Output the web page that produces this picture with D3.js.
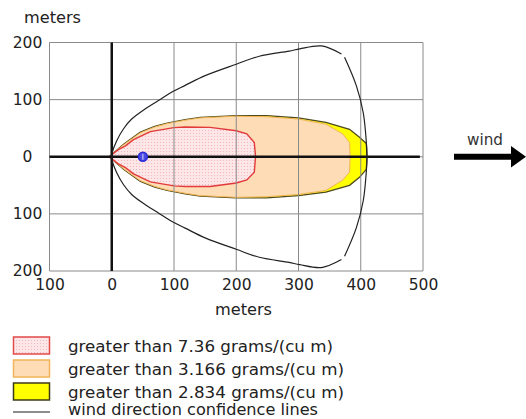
<!DOCTYPE html>
<html><head><meta charset="utf-8">
<script src="https://cdn.jsdelivr.net/npm/d3@7"></script>
<style>
body{margin:0;background:#fff;}
svg{display:block;font-family:"DejaVu Sans",Verdana,sans-serif;}
</style></head>
<body>
<svg id="c" width="526" height="419"></svg>
<script>
// ---- data (meters) ----
const xTicks = [-100, 0, 100, 200, 300, 400, 500];
const yTicks = [-200, -100, 0, 100, 200];
const redZone = [[-4,0],[10,12],[22,19],[35,30],[62,44],[100,51],[118,52],[158,51.5],[200,45.5],[217,40],[229,25],[231,0],
  [229,-27],[217,-40.5],[200,-46],[158,-52],[118,-52],[100,-51],[62,-44],[35,-30],[22,-19],[10,-12]];
const orangeZone = [[-4,0],[19,21],[46,42],[69,52],[89,58],[118,64],[142,68],[200,71],[249,70],[300,66],[344,57],[371,40],[382,25],[383,0],
  [382,-27],[371,-41],[344,-59],[300,-66],[249,-70],[200,-71],[142,-68],[118,-64],[89,-58],[69,-52],[46,-42],[19,-21]];
const yellowZone = [[-4,0],[19,22],[46,43],[69,53],[89,59],[118,65],[142,69],[200,72],[249,72],[300,68],[344,60],[382,48],[398,34],[409,23],[410,0],
  [409,-22],[398,-36],[382,-50],[344,-62],[300,-68],[249,-72],[200,-72],[142,-69],[118,-65],[89,-59],[69,-53],[46,-43],[19,-22]];
const confUpper = [[0,0],[1,8],[8,28],[19,49],[32,66],[54,84],[75,98.5],[96,113],[118,125],[150,142],[200,162],[237,176],[285,185],[302,189],[337,194],[369,180]];
const confArc = [[374,174],[393,124],[404,77],[409,25],[410,0],[409,-25],[404,-77],[393,-124],[374,-174]];
const confLower = [[369,-180],[337,-194],[302,-189],[285,-185],[237,-176],[200,-162],[150,-142],[118,-125],[96,-113],[75,-98.5],[54,-84],[32,-66],[19,-49],[8,-28],[1,-8],[0,0]];
const sourcePoint = [50, 0];
const legendLabels = ["greater than 7.36 grams/(cu m)","greater than 3.166 grams/(cu m)","greater than 2.834 grams/(cu m)","wind direction confidence lines"];

// ---- drawing ----
const svg = d3.select("#c");
const x = d3.scaleLinear().domain([-100,500]).range([49.5,423]);
const y = d3.scaleLinear().domain([-200,200]).range([271,42.5]);
const line = d3.line().x(d=>x(d[0])).y(d=>y(d[1])).curve(d3.curveCatmullRom.alpha(0.5));
const closed = d3.line().x(d=>x(d[0])).y(d=>y(d[1])).curve(d3.curveLinearClosed);

const defs = svg.append("defs");
const pat = defs.append("pattern").attr("id","dots").attr("width",3).attr("height",3).attr("patternUnits","userSpaceOnUse");
pat.append("rect").attr("width",3).attr("height",3).attr("fill","#fde6e8");
pat.append("rect").attr("x",1).attr("y",1).attr("width",1).attr("height",1).attr("fill","#f2b8bc");

// zones
svg.append("path").attr("d",closed(yellowZone)).attr("fill","#ffff00").attr("stroke","#4d4a1e").attr("stroke-width",1.3);
svg.append("path").attr("d",closed(orangeZone)).attr("fill","#fddcb6").attr("stroke","#f2b45a").attr("stroke-width",1);
svg.append("path").attr("d",closed(redZone)).attr("fill","url(#dots)").attr("stroke","#e23a3a").attr("stroke-width",1.4);

// grid
const g = svg.append("g");
g.selectAll(".vx").data(xTicks).join("line").attr("x1",d=>x(d)).attr("x2",d=>x(d)).attr("y1",y(200)).attr("y2",y(-200))
  .attr("stroke","#8a8a8a").attr("stroke-width",1);
g.selectAll(".hy").data(yTicks).join("line").attr("y1",d=>y(d)).attr("y2",d=>y(d)).attr("x1",x(-100)).attr("x2",x(500))
  .attr("stroke","#8a8a8a").attr("stroke-width",1);

// main axes lines
svg.append("line").attr("x1",x(0)).attr("x2",x(0)).attr("y1",y(200)).attr("y2",y(-200)).attr("stroke","#111").attr("stroke-width",2.5);
svg.append("line").attr("x1",x(-100)).attr("x2",x(495)).attr("y1",y(0)).attr("y2",y(0)).attr("stroke","#111").attr("stroke-width",2.5);

// confidence lines
[confUpper, confArc, confLower].forEach(s=>{
  svg.append("path").attr("d",line(s)).attr("fill","none").attr("stroke","#222").attr("stroke-width",1.2);
});

// source marker
svg.append("circle").attr("cx",x(sourcePoint[0])).attr("cy",y(sourcePoint[1])).attr("r",4.5)
  .attr("fill","#4a4ae0").attr("stroke","#2b2bd8").attr("stroke-width",1.5);
svg.append("line").attr("x1",x(sourcePoint[0])).attr("x2",x(sourcePoint[0])).attr("y1",y(sourcePoint[1])-3).attr("y2",y(sourcePoint[1])+3)
  .attr("stroke","#d8d8ff").attr("stroke-width",1);

// tick labels via axes
const fmt = d=>String(Math.abs(d));
const xa = svg.append("g").attr("transform",`translate(0,${y(-200)})`).call(d3.axisBottom(x).tickValues(xTicks).tickFormat(fmt).tickSize(0).tickPadding(8));
xa.select(".domain").remove();
xa.selectAll("text").attr("font-size",15.5).attr("fill","#222").attr("font-family","DejaVu Sans");
const ya = svg.append("g").attr("transform",`translate(${x(-100)},0)`).call(d3.axisLeft(y).tickValues(yTicks).tickFormat(fmt).tickSize(0));
ya.select(".domain").remove();
ya.selectAll("text").attr("font-size",15.5).attr("fill","#222").attr("font-family","DejaVu Sans").attr("text-anchor","middle").attr("x",-22);

svg.append("text").attr("x",24).attr("y",23).attr("font-size",15).attr("fill","#222")
  .attr("textLength",57).attr("lengthAdjust","spacingAndGlyphs").text("meters");
svg.append("text").attr("x",215).attr("y",315).attr("font-size",15).attr("fill","#222")
  .attr("textLength",57).attr("lengthAdjust","spacingAndGlyphs").text("meters");

// wind arrow
svg.append("text").attr("x",467).attr("y",145).attr("font-size",15).attr("fill","#333")
  .attr("textLength",36).attr("lengthAdjust","spacingAndGlyphs").text("wind");
svg.append("line").attr("x1",454).attr("x2",513).attr("y1",156.7).attr("y2",156.7).attr("stroke","#000").attr("stroke-width",6);
svg.append("path").attr("d","M511,146 L526,156.7 L511,167.5 Z").attr("fill","#000");

// legend
const ly = [345.5, 368.5, 391.5, 408.5];
const lw = [265, 276, 276, 250];
const lg = svg.append("g");
lg.append("rect").attr("x",13.5).attr("y",337).attr("width",36).attr("height",17).attr("fill","url(#dots)").attr("stroke","#e24a4a").attr("stroke-width",1.5);
lg.append("rect").attr("x",13.5).attr("y",360).attr("width",36).attr("height",17).attr("fill","#fddcb6").attr("stroke","#f2b45a").attr("stroke-width",1.5);
lg.append("rect").attr("x",13.5).attr("y",383).attr("width",36).attr("height",17).attr("fill","#ffff00").attr("stroke","#3d3a18").attr("stroke-width",1.5);
lg.append("line").attr("x1",13).attr("x2",50).attr("y1",412).attr("y2",412).attr("stroke","#666").attr("stroke-width",1.5);
lg.selectAll("text").data(legendLabels).join("text").attr("x",68).attr("y",(d,i)=>ly[i]+6)
  .attr("font-size",15).attr("fill","#222").attr("textLength",(d,i)=>lw[i]).attr("lengthAdjust","spacingAndGlyphs").text(d=>d);
</script>
</body></html>
